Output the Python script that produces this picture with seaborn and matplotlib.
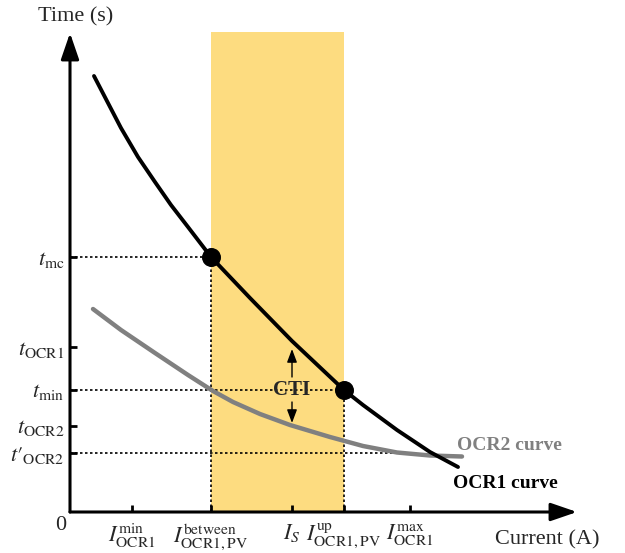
import numpy as np
import pandas as pd
import matplotlib
matplotlib.use("Agg")
import matplotlib.pyplot as plt
import seaborn as sns

# Kurvdata (godtyckliga enheter)
ocr1_current = [2.4, 3.8, 5.1, 6.8, 8.5, 10.1, 11.8, 14.1, 18.0, 22.2, 27.4, 29.3, 32.7, 36.0, 38.8]
ocr1_time = [43.6, 40.9, 38.4, 35.5, 33.0, 30.7, 28.5, 25.5, 21.4, 17.1, 12.2, 10.7, 8.2, 6.0, 4.5]
ocr2_current = [2.3, 5.1, 8.5, 11.8, 14.3, 16.3, 19.0, 22.0, 26.0, 29.3, 32.7, 36.0, 39.2]
ocr2_time = [20.3, 18.2, 15.9, 13.7, 12.1, 11.0, 9.8, 8.7, 7.5, 6.6, 5.95, 5.65, 5.55]

# Markerade punkter på OCR1
dot_current = [14.1, 27.4]
dot_time = [25.5, 12.2]

current_ticks = [6.2, 14.1, 22.2, 27.4, 34.0]
current_labels = [r"$I_{\mathrm{OCR1}}^{\mathrm{min}}$",
                  r"$I_{\mathrm{OCR1,PV}}^{\mathrm{between}}$",
                  r"$I_S$",
                  r"$I_{\mathrm{OCR1,PV}}^{\mathrm{up}}$",
                  r"$I_{\mathrm{OCR1}}^{\mathrm{max}}$"]
time_ticks = [25.5, 16.5, 12.2, 8.6, 5.9]
time_labels = [r"$t_{\mathrm{mc}}$", r"$t_{\mathrm{OCR1}}$", r"$t_{\mathrm{min}}$",
               r"$t_{\mathrm{OCR2}}$", r"$t\prime_{\mathrm{OCR2}}$"]

band = (14.1, 27.4)
t_prime_end = 34.0

ocr1 = pd.DataFrame({"current": ocr1_current, "time": ocr1_time})
ocr2 = pd.DataFrame({"current": ocr2_current, "time": ocr2_time})
dots = pd.DataFrame({"current": dot_current, "time": dot_time})

sns.set_style("white")
plt.rcParams["font.family"] = ["Liberation Serif", "DejaVu Serif"]
plt.rcParams["mathtext.fontset"] = "stix"

fig = plt.figure(figsize=(6.25, 5.53), dpi=100)
ax = fig.add_axes([70 / 625, 41 / 553, 520 / 625, 487 / 553])
ax.set_xlim(0, 52)
ax.set_ylim(0, 48.7)
for s in ax.spines.values():
    s.set_visible(False)

# Gult område
ax.fill_between(band, 0, 48.0, color="#FDDC80", lw=0, zorder=0)

# Prickade hjälplinjer
dot_style = dict(color="black", lw=1.2, linestyle=(0, (1.5, 1.5)), zorder=2)
ax.plot([0, band[0]], [dot_time[0]] * 2, **dot_style)
ax.plot([band[0]] * 2, [0, dot_time[0]], **dot_style)
ax.plot([0, band[1]], [dot_time[1]] * 2, **dot_style)
ax.plot([band[1]] * 2, [0, dot_time[1]], **dot_style)
ax.plot([0, t_prime_end], [time_ticks[4]] * 2, **dot_style)

# Kurvor
sns.lineplot(data=ocr2, x="current", y="time", color="#808080", lw=3.2,
             sort=False, ax=ax, zorder=3, solid_joinstyle="round")
sns.lineplot(data=ocr1, x="current", y="time", color="black", lw=2.8,
             sort=False, ax=ax, zorder=4, solid_joinstyle="round")
sns.scatterplot(data=dots, x="current", y="time", color="black", s=160,
                edgecolor="black", ax=ax, zorder=5)

# Axlar med pilar
arrow = dict(arrowstyle="-|>,head_length=1.6,head_width=0.55", lw=2.2,
             color="black", shrinkA=0, shrinkB=0, mutation_scale=10)
ax.annotate("", xy=(50.7, 0), xytext=(0, 0), arrowprops=arrow, zorder=6)
ax.annotate("", xy=(0, 47.9), xytext=(0, 0), arrowprops=arrow, zorder=6)

ax.set_xticks(current_ticks)
ax.set_xticklabels(current_labels, fontsize=16)
ax.set_yticks(time_ticks)
ax.set_yticklabels(time_labels, fontsize=16)
ax.tick_params(axis="both", direction="in", length=5, width=2, color="black",
               bottom=True, left=True)
ax.tick_params(axis="x", pad=7)
ax.tick_params(axis="y", pad=4)
ax.set_xlabel("")
ax.set_ylabel("")

# CTI-pilar
small = dict(arrowstyle="-|>,head_length=0.8,head_width=0.3", lw=1,
             color="black", shrinkA=0, shrinkB=0, mutation_scale=10)
ax.annotate("", xy=(22.2, 16.3), xytext=(22.2, 13.5), arrowprops=small)
ax.annotate("", xy=(22.2, 8.9), xytext=(22.2, 11.0), arrowprops=small)
ax.text(22.2, 12.2, "CTI", fontsize=15, fontweight="bold", ha="center",
        va="center", zorder=7)

ax.text(38.7, 6.7, "OCR2 curve", fontsize=14, fontweight="bold",
        color="#808080", ha="left", va="center")
ax.text(38.3, 2.8, "OCR1 curve", fontsize=14, fontweight="bold",
        color="black", ha="left", va="center")

ax.text(0.6, 49.5, "Time (s)", fontsize=16, ha="center", va="center",
        clip_on=False)
ax.text(42.5, -2.8, "Current (A)", fontsize=16, ha="left", va="center",
        clip_on=False)
ax.text(-0.4, -1.4, "0", fontsize=16, ha="right", va="center",
        clip_on=False)

plt.savefig("out.png", dpi=100)
